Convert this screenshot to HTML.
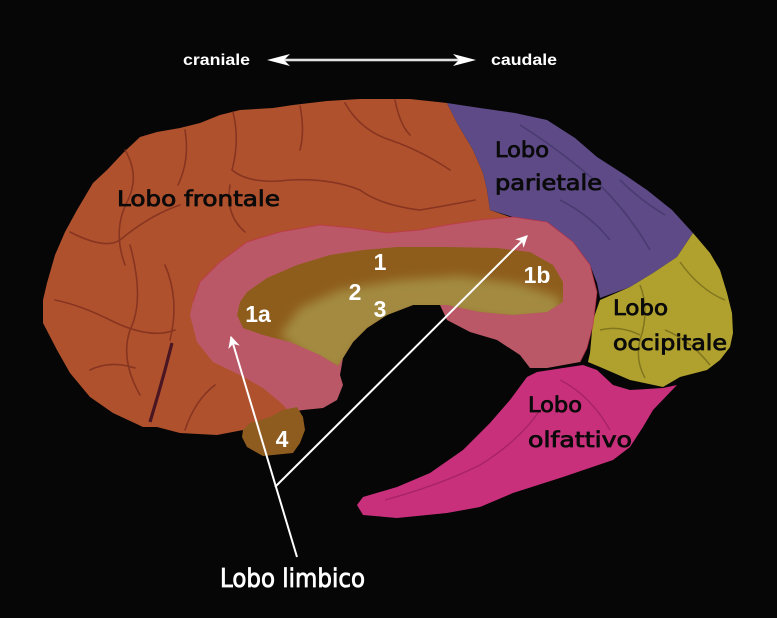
<!DOCTYPE html>
<html><head><meta charset="utf-8"><style>
html,body{margin:0;padding:0;background:#060606;}
svg{display:block;}
</style></head><body>
<svg width="777" height="618" viewBox="0 0 777 618" xmlns="http://www.w3.org/2000/svg">
<defs>
<marker id="ah" viewBox="0 0 10 10" refX="9" refY="5" markerWidth="7" markerHeight="6" orient="auto">
<path d="M0,0 L10,5 L0,10 L3,5 z" fill="#fff"/>
</marker>
<filter id="soft" x="-10%" y="-10%" width="120%" height="120%"><feGaussianBlur stdDeviation="5"/></filter>
<clipPath id="cc">
<path d="M240,302 L247,292 L267,278 L297,265 L330,255 L363,250 L397,247 L447,247 L497,248 L530,252 L553,265 L563,282 L563,302 L547,312 L513,315 L480,312 L447,305 L440,305 L413,305 L387,315 L367,328 L353,342 L343,358 L338,366 L320,355 L290,342 L263,335 L243,328 L237,315 Z"/>
</clipPath>
</defs>
<rect width="777" height="618" fill="#060606"/>

<!-- frontal -->
<path d="M290,412 L283,410 L263,423 L243,430 L217,435 L180,433 L157,427 L143,427 L113,413 L90,397 L70,373 L57,350 L43,323 L43,300 L47,283 L55,255 L65,232 L77,210 L93,183 L107,170 L123,153 L140,137 L157,132 L180,128 L200,123 L220,115 L240,110 L273,108 L293,105 L327,101 L360,99 L410,99 L447,103 L457,123 L473,150 L483,173 L487,190 L490,210 L513,218 L420,245 L300,250 L250,280 L240,320 L250,360 L300,395 Z" fill="#b0512e"/>
<!-- frontal sulci -->
<g fill="none" stroke="#7a2c1c" stroke-width="1.6" opacity="0.75" stroke-linecap="round">
<path d="M70,232 Q105,250 120,240 Q150,215 180,205"/>
<path d="M125,150 Q140,175 128,200 Q112,230 125,265"/>
<path d="M185,130 Q190,160 178,185"/>
<path d="M233,112 Q240,140 232,170 Q250,185 290,180 Q330,178 360,190"/>
<path d="M300,106 Q305,130 300,150"/>
<path d="M345,103 Q360,130 390,140 Q420,150 450,170"/>
<path d="M395,100 Q400,125 410,135"/>
<path d="M130,245 Q145,300 130,330 Q120,360 140,395"/>
<path d="M55,300 Q80,305 110,320 Q150,340 175,330"/>
<path d="M90,370 Q110,360 135,368"/>
<path d="M185,430 Q195,400 215,385"/>
<path d="M230,185 Q225,215 245,232"/>
<path d="M360,190 Q380,205 420,210 Q450,205 475,200"/>
<path d="M165,265 Q180,300 170,340"/>
</g>
<path d="M172,343 L165,370 L158,395 L150,422" stroke="#4a1622" stroke-width="3.2" fill="none"/>

<!-- parietal -->
<path d="M447,103 L480,108 L515,113 L547,120 L575,138 L597,157 L625,175 L647,190 L672,210 L693,233 L677,257 L653,273 L630,287 L600,298 L597,283 L590,265 L573,242 L547,222 L513,217 L490,210 L487,190 L483,173 L473,150 L457,123 Z" fill="#5d4a86"/>
<g fill="none" stroke="#43356a" stroke-width="1.6" opacity="0.7">
<path d="M520,125 Q560,150 600,185 Q630,215 650,250"/>
<path d="M560,200 Q590,215 610,240"/>
<path d="M620,180 Q640,200 665,215"/>
</g>

<!-- occipital -->
<path d="M693,233 L710,253 L720,270 L727,293 L732,313 L733,333 L730,347 L720,360 L707,370 L680,377 L663,387 L630,380 L600,367 L588,362 L590,353 L593,320 L600,300 L630,287 L653,273 L677,257 Z" fill="#b0a02e"/>
<g fill="none" stroke="#6e6418" stroke-width="1.5" opacity="0.7">
<path d="M640,285 Q650,310 640,340 Q635,360 645,378"/>
<path d="M680,262 Q700,290 725,300"/>
<path d="M665,330 Q690,340 710,365"/>
<path d="M600,330 Q620,325 640,335"/>
</g>

<!-- olfactory -->
<path d="M357,505 L363,497 L397,487 L430,473 L463,450 L490,423 L510,400 L527,377 L537,372 L563,368 L583,365 L597,370 L613,385 L630,390 L663,388 L677,385 L653,410 L643,427 L630,447 L613,460 L563,477 L513,493 L480,507 L447,513 L397,518 L363,515 Z" fill="#c8307c"/>
<g fill="none" stroke="#9a1e5c" stroke-width="1.4" opacity="0.7">
<path d="M385,500 Q440,485 480,465 Q520,440 540,410"/>
<path d="M560,380 Q590,395 610,430"/>
</g>

<!-- limbic -->
<path d="M193,302 L200,282 L220,262 L247,242 L280,232 L320,225 L353,228 L387,233 L420,230 L447,225 L480,220 L513,217 L547,222 L573,242 L590,265 L597,292 L593,325 L587,348 L580,362 L547,368 L530,368 L520,355 L497,340 L470,332 L447,320 L440,305 L413,305 L387,315 L367,328 L353,342 L343,358 L340,375 L343,385 L337,400 L323,408 L303,410 L290,412 L280,402 L263,388 L240,375 L213,362 L197,342 L190,315 Z" fill="#bb5868"/>
<path d="M193,302 L200,282 L220,262 L247,242 L280,232 L320,225 L353,228 L387,233 L420,230 L447,225 L480,220 L513,217 L547,222 L573,242 L590,265 L597,292 L593,325 L587,348 L580,362" fill="none" stroke="#c0304a" stroke-width="1" opacity="0.6"/>

<!-- corpus callosum -->
<path d="M240,302 L247,292 L267,278 L297,265 L330,255 L363,250 L397,247 L447,247 L497,248 L530,252 L553,265 L563,282 L563,302 L547,312 L513,315 L480,312 L447,305 L440,305 L413,305 L387,315 L367,328 L353,342 L343,358 L338,366 L320,355 L290,342 L263,335 L243,328 L237,315 Z" fill="#8e5d1c"/>
<g clip-path="url(#cc)">
<path d="M280,335 L300,308 L340,290 L400,280 L460,276 L520,284 L560,298 L560,320 L513,322 L447,312 L413,312 L387,322 L367,336 L353,350 L342,372 L310,360 Z" fill="#a38a40" filter="url(#soft)"/>
</g>

<!-- region 4 -->
<path d="M243,430 L250,423 L270,417 L283,410 L297,407 L303,417 L305,430 L300,443 L293,453 L263,456 L247,447 L242,437 Z" fill="#8e5c1e"/>

<!-- labels black -->
<g font-family="'DejaVu Sans', 'Liberation Sans', sans-serif" font-size="21" fill="#0a0a0a" stroke="#0a0a0a" stroke-width="0.8">
<text x="117" y="206" textLength="163" lengthAdjust="spacingAndGlyphs">Lobo frontale</text>
<text x="495" y="157" textLength="54" lengthAdjust="spacingAndGlyphs">Lobo</text>
<text x="495" y="190" textLength="107" lengthAdjust="spacingAndGlyphs">parietale</text>
<text x="613" y="315" textLength="55" lengthAdjust="spacingAndGlyphs">Lobo</text>
<text x="613" y="350" textLength="114" lengthAdjust="spacingAndGlyphs">occipitale</text>
<text x="528" y="412" textLength="54" lengthAdjust="spacingAndGlyphs">Lobo</text>
<text x="528" y="447" textLength="104" lengthAdjust="spacingAndGlyphs">olfattivo</text>
</g>

<!-- numbers -->
<g font-family="'Liberation Sans', sans-serif" font-weight="bold" font-size="23" fill="#fff" text-anchor="middle">
<text x="380" y="270">1</text>
<text x="355" y="300">2</text>
<text x="380" y="317">3</text>
<text x="258" y="322">1a</text>
<text x="537" y="283">1b</text>
<text x="282" y="447">4</text>
</g>

<!-- limbic pointers -->
<line x1="297" y1="557" x2="231" y2="337" stroke="#fff" stroke-width="2" marker-end="url(#ah)"/>
<line x1="275" y1="487" x2="527" y2="236" stroke="#fff" stroke-width="2" marker-end="url(#ah)"/>
<text x="220" y="587" font-family="'DejaVu Sans', 'Liberation Sans', sans-serif" font-size="26" fill="#fff" stroke="#fff" stroke-width="0.8" textLength="145" lengthAdjust="spacingAndGlyphs">Lobo limbico</text>

<!-- top direction -->
<g font-family="'Liberation Sans', sans-serif" font-weight="bold" font-size="16" fill="#fff">
<text x="183" y="65" textLength="67" lengthAdjust="spacingAndGlyphs">craniale</text>
<text x="491" y="65" textLength="66" lengthAdjust="spacingAndGlyphs">caudale</text>
</g>
<line x1="282" y1="60" x2="462" y2="60" stroke="#fff" stroke-width="2.4"/>
<line x1="282" y1="60" x2="462" y2="60" stroke="#888" stroke-width="0.6"/>
<polygon points="267,60 290,54 284,60 290,66" fill="#fff"/>
<polygon points="476,60 453,54 459,60 453,66" fill="#fff"/>
</svg>
</body></html>
